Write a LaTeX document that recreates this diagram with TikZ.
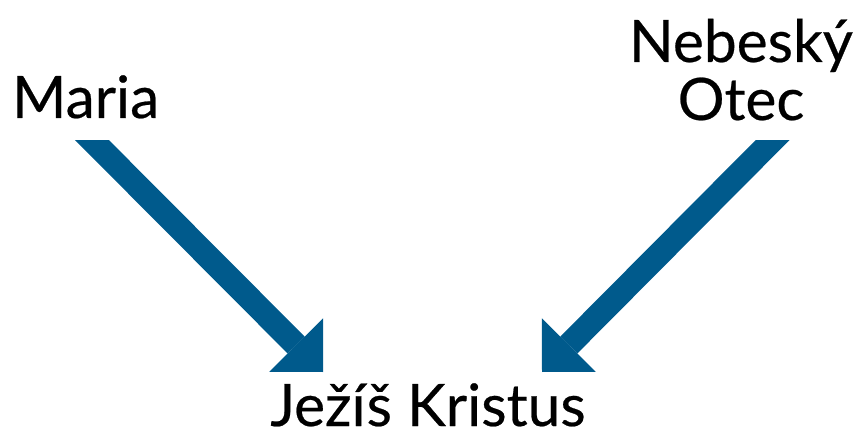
\documentclass[tikz,border=0pt]{standalone}
\usepackage{fontspec}
\setmainfont{Lato}[FakeBold=0.4]
\usepackage{tikz}
\usetikzlibrary{arrows.meta,calc,positioning}
\definecolor{pfeilblau}{RGB}{0,90,140}
\tikzset{
  beschriftung/.style={inner sep=0pt,outer sep=0pt,font=\fontsize{58.6}{58}\selectfont,align=center},
  pfeil/.style={pfeilblau,line width=24pt,-{Triangle[length=38pt,width=76pt,line width=0pt]}}
}
\begin{document}
\begin{tikzpicture}[x=1pt,y=-1pt]
\useasboundingbox (0,0) rectangle (862,430);
  \pgfmathsetmacro{\oben}{141}
  \node[beschriftung,anchor=base west] (maria) at (12,118) {Maria};
  \node[beschriftung,anchor=base] (vater) at (741,120) {Nebeský\\Otec};
  \node[beschriftung,anchor=base,text depth=0pt] (jezis) at (428,426) {Ježíš Kristus};
%Pfeile oben waagerecht abschneiden
  \coordinate (startL) at (63,111);
  \coordinate (spitzeL) at (323,372);
  \coordinate (startR) at (801.5,111);
  \coordinate (spitzeR) at (542,372);
\begin{scope}
  \clip (0,\oben) rectangle (862,430);
  \draw[pfeil] (startL) -- (spitzeL);
  \draw[pfeil] (startR) -- (spitzeR);
\end{scope}
\end{tikzpicture}
\end{document}
